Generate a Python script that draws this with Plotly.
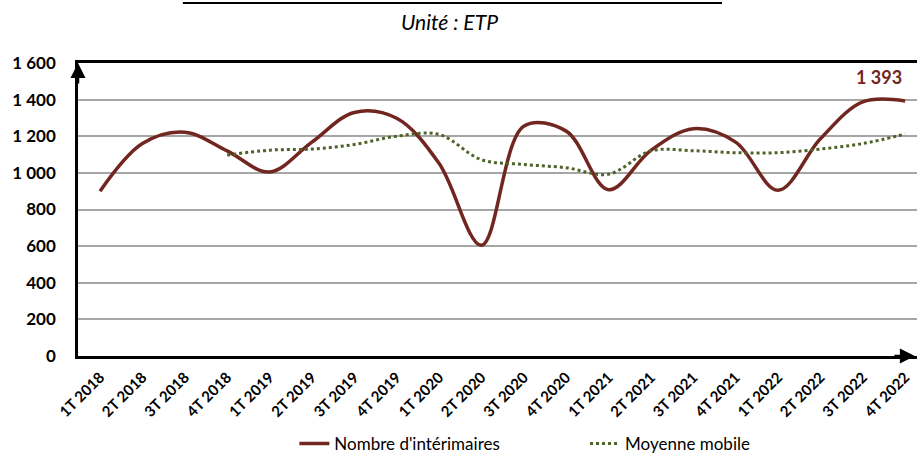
import plotly.graph_objects as go

categories = ["1T 2018", "2T 2018", "3T 2018", "4T 2018",
              "1T 2019", "2T 2019", "3T 2019", "4T 2019",
              "1T 2020", "2T 2020", "3T 2020", "4T 2020",
              "1T 2021", "2T 2021", "3T 2021", "4T 2021",
              "1T 2022", "2T 2022", "3T 2022", "4T 2022"]
interimaires = [900, 1160, 1222, 1120, 1005, 1168, 1330, 1298, 1052, 605,
                1255, 1228, 908, 1123, 1241, 1168, 905, 1186, 1388, 1393]
moyenne_mobile = [None, None, None, 1097, 1124, 1130, 1155, 1200, 1210, 1072,
                  1046, 1028, 993, 1120, 1121, 1110, 1110, 1130, 1160, 1212]
y_ticks = [0, 200, 400, 600, 800, 1000, 1200, 1400, 1600]
y_ticktext = ["0", "200", "400", "600", "800", "1 000", "1 200", "1 400", "1 600"]
last_label = "1 393"

RED = "#722620"
GREEN = "#4F6228"
FONT = "Lato"

xs = list(range(len(categories)))

fig = go.Figure()
fig.add_trace(go.Scatter(
    x=xs, y=interimaires, mode="lines", name="Nombre d'intérimaires",
    line=dict(color=RED, width=3.5, shape="spline", smoothing=1.0),
    legend="legend",
))
fig.add_trace(go.Scatter(
    x=xs, y=moyenne_mobile, mode="lines", name="Moyenne mobile",
    line=dict(color=GREEN, width=3, dash="dot", shape="spline", smoothing=1.0),
    connectgaps=False, legend="legend2",
))

legend_common = dict(orientation="h", xref="container", yref="container",
                     xanchor="left", y=0.022, yanchor="middle",
                     font=dict(family=FONT, size=17, color="black"),
                     itemwidth=30, tracegroupgap=0, bgcolor="rgba(0,0,0,0)")

fig.update_layout(
    width=917, height=454,
    margin=dict(l=78, r=0, t=63, b=98),
    paper_bgcolor="white", plot_bgcolor="white",
    font=dict(family=FONT, color="black"),
    showlegend=True, hovermode=False,
    legend=dict(x=0.321, **legend_common),
    legend2=dict(x=0.638, **legend_common),
    xaxis=dict(
        range=[-0.52, 19.28],
        tickmode="array", tickvals=xs, ticktext=[f"<b>{c}</b>" for c in categories],
        tickangle=-45, tickfont=dict(family=FONT, size=15, color="black"),
        showgrid=False, zeroline=False,
        showline=True, linecolor="black", linewidth=2.5, mirror=True,
        ticks="", fixedrange=True, ticklabelstandoff=4,
    ),
    yaxis=dict(
        range=[0, 1600],
        tickmode="array", tickvals=y_ticks, ticktext=[f"<b>{t}</b>" for t in y_ticktext],
        tickfont=dict(family=FONT, size=17, color="black"),
        showgrid=True, gridcolor="#A6A6A6", gridwidth=1.5,
        zeroline=False, showline=True, linecolor="black", linewidth=2.5,
        ticks="", fixedrange=True, ticklabelstandoff=16,
    ),
)

# data label on the last point
fig.add_annotation(x=xs[-1], y=interimaires[-1], text=f"<b>{last_label}</b>",
                   showarrow=False, xanchor="center", yanchor="middle",
                   xshift=-26, yshift=24,
                   font=dict(family=FONT, size=18, color=RED))

# subtitle
fig.add_annotation(xref="paper", yref="paper", x=0.443, y=1.143,
                   text="<i>Unité : ETP</i>", showarrow=False,
                   xanchor="center", yanchor="middle",
                   font=dict(family=FONT, size=21, color="black"))

# underline of the (cropped) title
fig.add_shape(type="line", xref="paper", yref="paper",
              x0=0.125, x1=0.7676, y0=1.2048, y1=1.2048,
              line=dict(color="black", width=2))

# axis arrows
fig.add_annotation(xref="paper", yref="paper", x=0, y=1, ax=0, ay=22,
                   axref="pixel", ayref="pixel", showarrow=True,
                   arrowhead=2, arrowsize=1.2, arrowwidth=2.5, arrowcolor="black",
                   text="", standoff=0)
fig.add_annotation(xref="paper", yref="paper", x=0.9975, y=0, ax=-22, ay=0,
                   axref="pixel", ayref="pixel", showarrow=True,
                   arrowhead=2, arrowsize=1.2, arrowwidth=2.5, arrowcolor="black",
                   text="", standoff=0)

fig.write_html("out.html", config={"displayModeBar": False},
               post_script="document.body.style.margin='0';")
